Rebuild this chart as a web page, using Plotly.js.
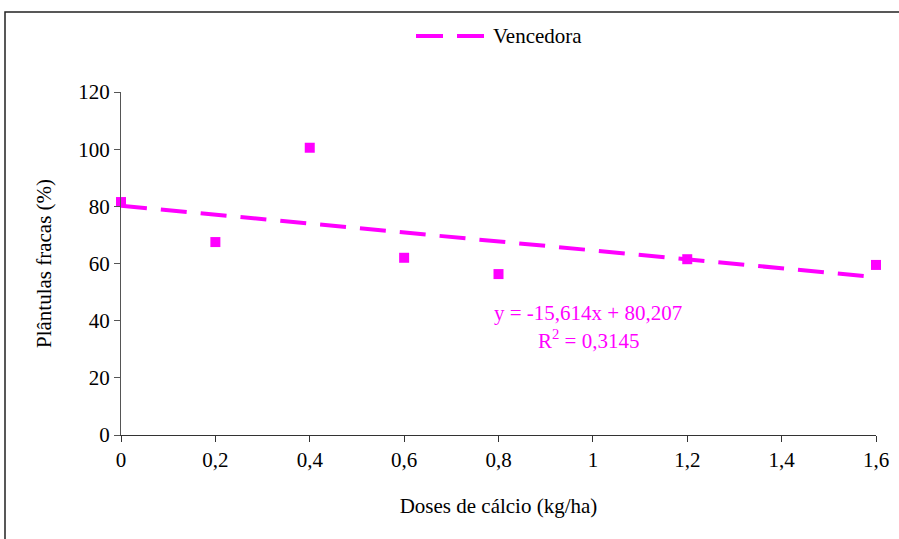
<!DOCTYPE html>
<html>
<head>
<meta charset="utf-8">
<script src="https://cdn.plot.ly/plotly-3.0.1.min.js"></script>
<style>html,body{margin:0;padding:0;background:#fff;}#chart{width:899px;height:539px;}</style>
</head>
<body>
<div id="chart"></div>
<script>
// Data
const doses = [0, 0.2, 0.4, 0.6, 0.8, 1.2, 1.6];
const plantulasFracas = [81.5, 67.5, 100.5, 62, 56.3, 61.5, 59.5];
// Trend line coefficients (as printed on the chart)
const trendSlope = -15.614;
const trendIntercept = 80.207;
const trendX = [0, 1.6];
const trendY = trendX.map(x => trendSlope * x + trendIntercept);
const xTickVals = [0, 0.2, 0.4, 0.6, 0.8, 1, 1.2, 1.4, 1.6];
const xTickText = ['0', '0,2', '0,4', '0,6', '0,8', '1', '1,2', '1,4', '1,6'];
const yTickVals = [0, 20, 40, 60, 80, 100, 120];
const yTickText = ['0', '20', '40', '60', '80', '100', '120'];
const seriesName = 'Vencedora';
const equationText = 'y = -15,614x + 80,207';
const r2Text = 'R<sup>2</sup> = 0,3145';

const MAG = '#FF00FF';
const FONT = '"Liberation Serif", "Times New Roman", serif';
const FS = 21;

const traces = [
  {
    x: trendX, y: trendY, mode: 'lines', name: seriesName,
    line: {color: MAG, width: 4, dash: '26px,14px'},
    showlegend: false, hoverinfo: 'skip', cliponaxis: false
  },
  {
    x: doses, y: plantulasFracas, mode: 'markers', name: seriesName,
    marker: {symbol: 'square', size: 10, color: MAG},
    showlegend: false, cliponaxis: false
  }
];

// plot area: x 121..876, y 92..435
const L = 121, R = 876, T = 92, B = 435;
const W = R - L, H = B - T;
const px = v => (v - L) / W;
const py = v => (B - v) / H;

const layout = {
  width: 899, height: 539,
  margin: {l: L, r: 899 - R, t: T, b: 539 - B},
  paper_bgcolor: '#fff', plot_bgcolor: '#fff',
  font: {family: FONT, size: FS, color: '#000'},
  showlegend: false,
  xaxis: {
    range: [0, 1.6], tickvals: xTickVals, ticktext: xTickText,
    showgrid: false, zeroline: false, showline: true, linecolor: '#333', linewidth: 1,
    ticks: 'outside', ticklen: 6, tickcolor: '#333', tickwidth: 1,
    tickfont: {family: FONT, size: FS, color: '#000'},
    title: {text: 'Doses de cálcio (kg/ha)', font: {family: FONT, size: FS, color: '#000'}, standoff: 27}
  },
  yaxis: {
    range: [0, 120], tickvals: yTickVals, ticktext: yTickText,
    showgrid: false, zeroline: false, showline: true, linecolor: '#555', linewidth: 1,
    ticks: 'outside', ticklen: 6, tickcolor: '#555', tickwidth: 1,
    tickfont: {family: FONT, size: FS, color: '#000'},
    title: {text: 'Plântulas fracas (%)', font: {family: FONT, size: FS, color: '#000'}, standoff: 20}
  },
  shapes: [
    {type: 'rect', xref: 'paper', yref: 'paper', x0: px(5), x1: 1.2, y0: -0.5, y1: py(12),
     line: {color: '#222', width: 1.5}, fillcolor: 'rgba(0,0,0,0)', layer: 'below'},
    {type: 'line', xref: 'paper', yref: 'paper', x0: px(416), x1: px(484), y0: py(36), y1: py(36),
     line: {color: MAG, width: 4, dash: '27px,14px'}}
  ],
  annotations: [
    {xref: 'paper', yref: 'paper', x: px(491), y: py(36), xanchor: 'left', yanchor: 'middle',
     text: seriesName, showarrow: false, font: {family: FONT, size: FS, color: '#000'}},
    {xref: 'paper', yref: 'paper', x: px(588), y: py(313), xanchor: 'center', yanchor: 'middle',
     text: equationText, showarrow: false, font: {family: FONT, size: FS, color: MAG}},
    {xref: 'paper', yref: 'paper', x: px(588), y: py(339), xanchor: 'center', yanchor: 'middle',
     text: r2Text, showarrow: false, font: {family: FONT, size: FS, color: MAG}}
  ]
};

Plotly.newPlot('chart', traces, layout, {displayModeBar: false, staticPlot: true});
</script>
</body>
</html>
